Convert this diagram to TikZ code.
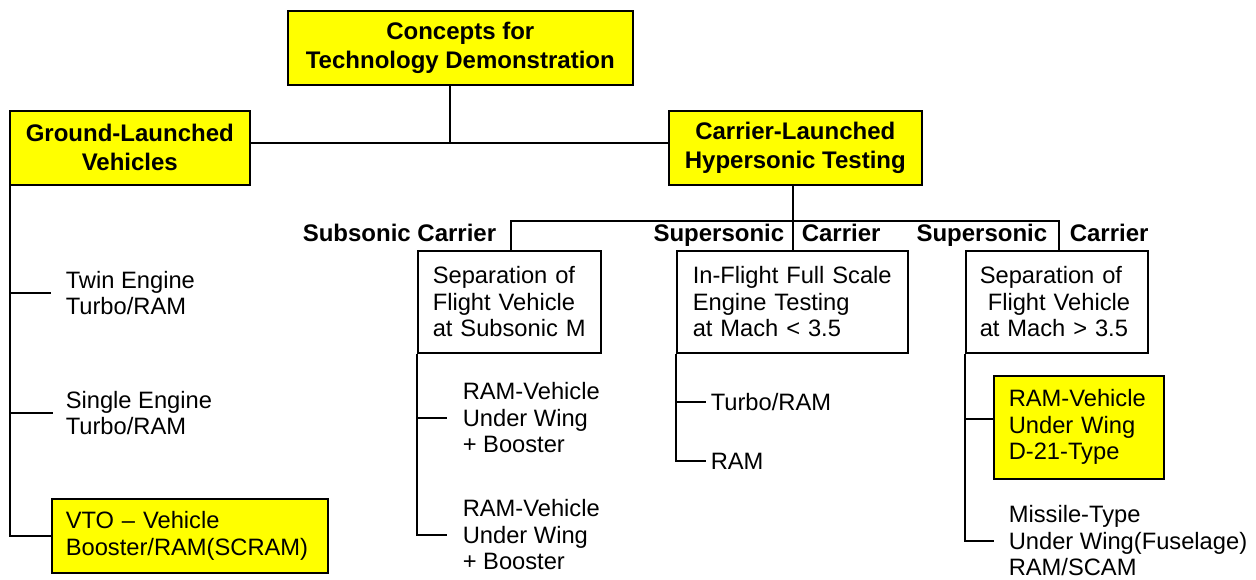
\documentclass[tikz,border=0pt]{standalone}
\usepackage{fontspec}
\setmainfont{Liberation Sans}
\definecolor{boxyellow}{RGB}{255,255,0}
\tikzset{
  bfont/.style={font=\fontsize{24}{29}\selectfont\bfseries},
  nfont/.style={font=\fontsize{23.7}{26.5}\selectfont},
  headbox/.style={draw, fill=boxyellow, bfont, align=center, inner sep=0pt, anchor=north west},
  planbox/.style={draw, fill=white, nfont, align=left, inner ysep=0pt, anchor=north west},
  hlbox/.style={draw, fill=boxyellow, nfont, align=left, inner ysep=0pt, anchor=north west},
  leaf/.style={nfont, align=left, inner sep=0pt, anchor=west},
  lab/.style={bfont, inner sep=0pt},
  conn/.style={line width=1.6pt}
}
\begin{document}
\begin{tikzpicture}[x=1pt,y=-1pt,line width=1.6pt]
\useasboundingbox (0,0) rectangle (1256,579);

% top level
\node[headbox, minimum width=345pt, minimum height=74pt] (top) at (287,10) {Concepts for\\Technology Demonstration};
\node[headbox, minimum width=240pt, minimum height=74pt] (gl) at (9,110) {Ground-Launched\\Vehicles};
\node[headbox, minimum width=253pt, minimum height=74pt] (cl) at (668,110) {Carrier-Launched\\Hypersonic Testing};

\coordinate (hub) at (450,143);
\draw[conn] (hub |- top.south) -- (hub);
\draw[conn] (gl.east |- hub) -- (cl.west |- hub);

% ground launched branch
\node[leaf] (twin) at (65,293) {Twin Engine\\Turbo/RAM};
\node[leaf] (single) at (65,413) {Single Engine\\Turbo/RAM};
\node[hlbox, text width=248pt, inner xsep=14pt, minimum height=74pt] (vto) at (51,498) {VTO – Vehicle\\Booster/RAM(SCRAM)};
\coordinate (lsp) at (10,184);
\draw[conn] (lsp) |- (vto.west);
\draw[conn] (lsp |- twin.west) -- ([xshift=-14pt]twin.west);
\draw[conn] (lsp |- single.west) -- ([xshift=-12pt]single.west);

% carrier launched branch
\node[planbox, text width=153pt, inner xsep=15pt, minimum height=102pt] (b1) at (417,250) {Separation of\\Flight Vehicle\\at Subsonic M};
\node[planbox, text width=199pt, inner xsep=16pt, minimum height=102pt] (b2) at (676,250) {In-Flight Full Scale\\Engine Testing\\at Mach < 3.5};
\node[planbox, text width=154pt, inner xsep=14pt, minimum height=102pt] (b3) at (965,250) {Separation of\\\hspace*{8pt}Flight Vehicle\\at Mach > 3.5};

\coordinate (cs) at (793,221);
\coordinate (h1) at (511,221);
\coordinate (h3) at (1059,221);
\draw[conn] (cs |- cl.south) -- (cs);
\draw[conn] (b1.north -| h1) -- (h1) -- (h3) -- (h3 |- b3.north);
\draw[conn] (cs) -- (cs |- b2.north);

\node[lab, anchor=base east] (lsub) at (497,241) {Subsonic Carrier};
\node[lab, anchor=base east] (lsup1) at (785,241) {Supersonic};
\node[lab, anchor=base west] (lcar1) at (801,241) {Carrier};
\node[lab, anchor=base east] (lsup2) at (1048,241) {Supersonic};
\node[lab, anchor=base west] (lcar2) at (1069,241) {Carrier};

% subsonic children
\node[leaf] (r1) at (462,418) {RAM-Vehicle\\Under Wing\\+ Booster};
\node[leaf] (r2) at (462,535) {RAM-Vehicle\\Under Wing\\+ Booster};
\draw[conn] (b1.south west) |- ([xshift=-15pt]r2.west);
\draw[conn] (b1.south west |- r1.west) -- ([xshift=-15pt]r1.west);

% supersonic engine testing children
\node[leaf] (tr) at (710,402) {Turbo/RAM};
\node[leaf] (ram) at (710,461) {RAM};
\draw[conn] (b2.south west) |- ([xshift=-4pt]ram.west);
\draw[conn] (b2.south west |- tr.west) -- ([xshift=-4pt]tr.west);

% supersonic separation children
\node[hlbox, text width=140pt, inner xsep=15pt, minimum height=103pt] (d21) at (993,375) {RAM-Vehicle\\Under Wing\\D-21-Type};
\node[leaf] (mis) at (1008,541) {Missile-Type\\Under Wing(Fuselage)\\RAM/SCAM};
\coordinate (d21b) at (993,419);
\draw[conn] (b3.south west) |- ([xshift=-14pt]mis.west);
\draw[conn] (b3.south west |- d21b) -- (d21b);
\end{tikzpicture}
\end{document}
